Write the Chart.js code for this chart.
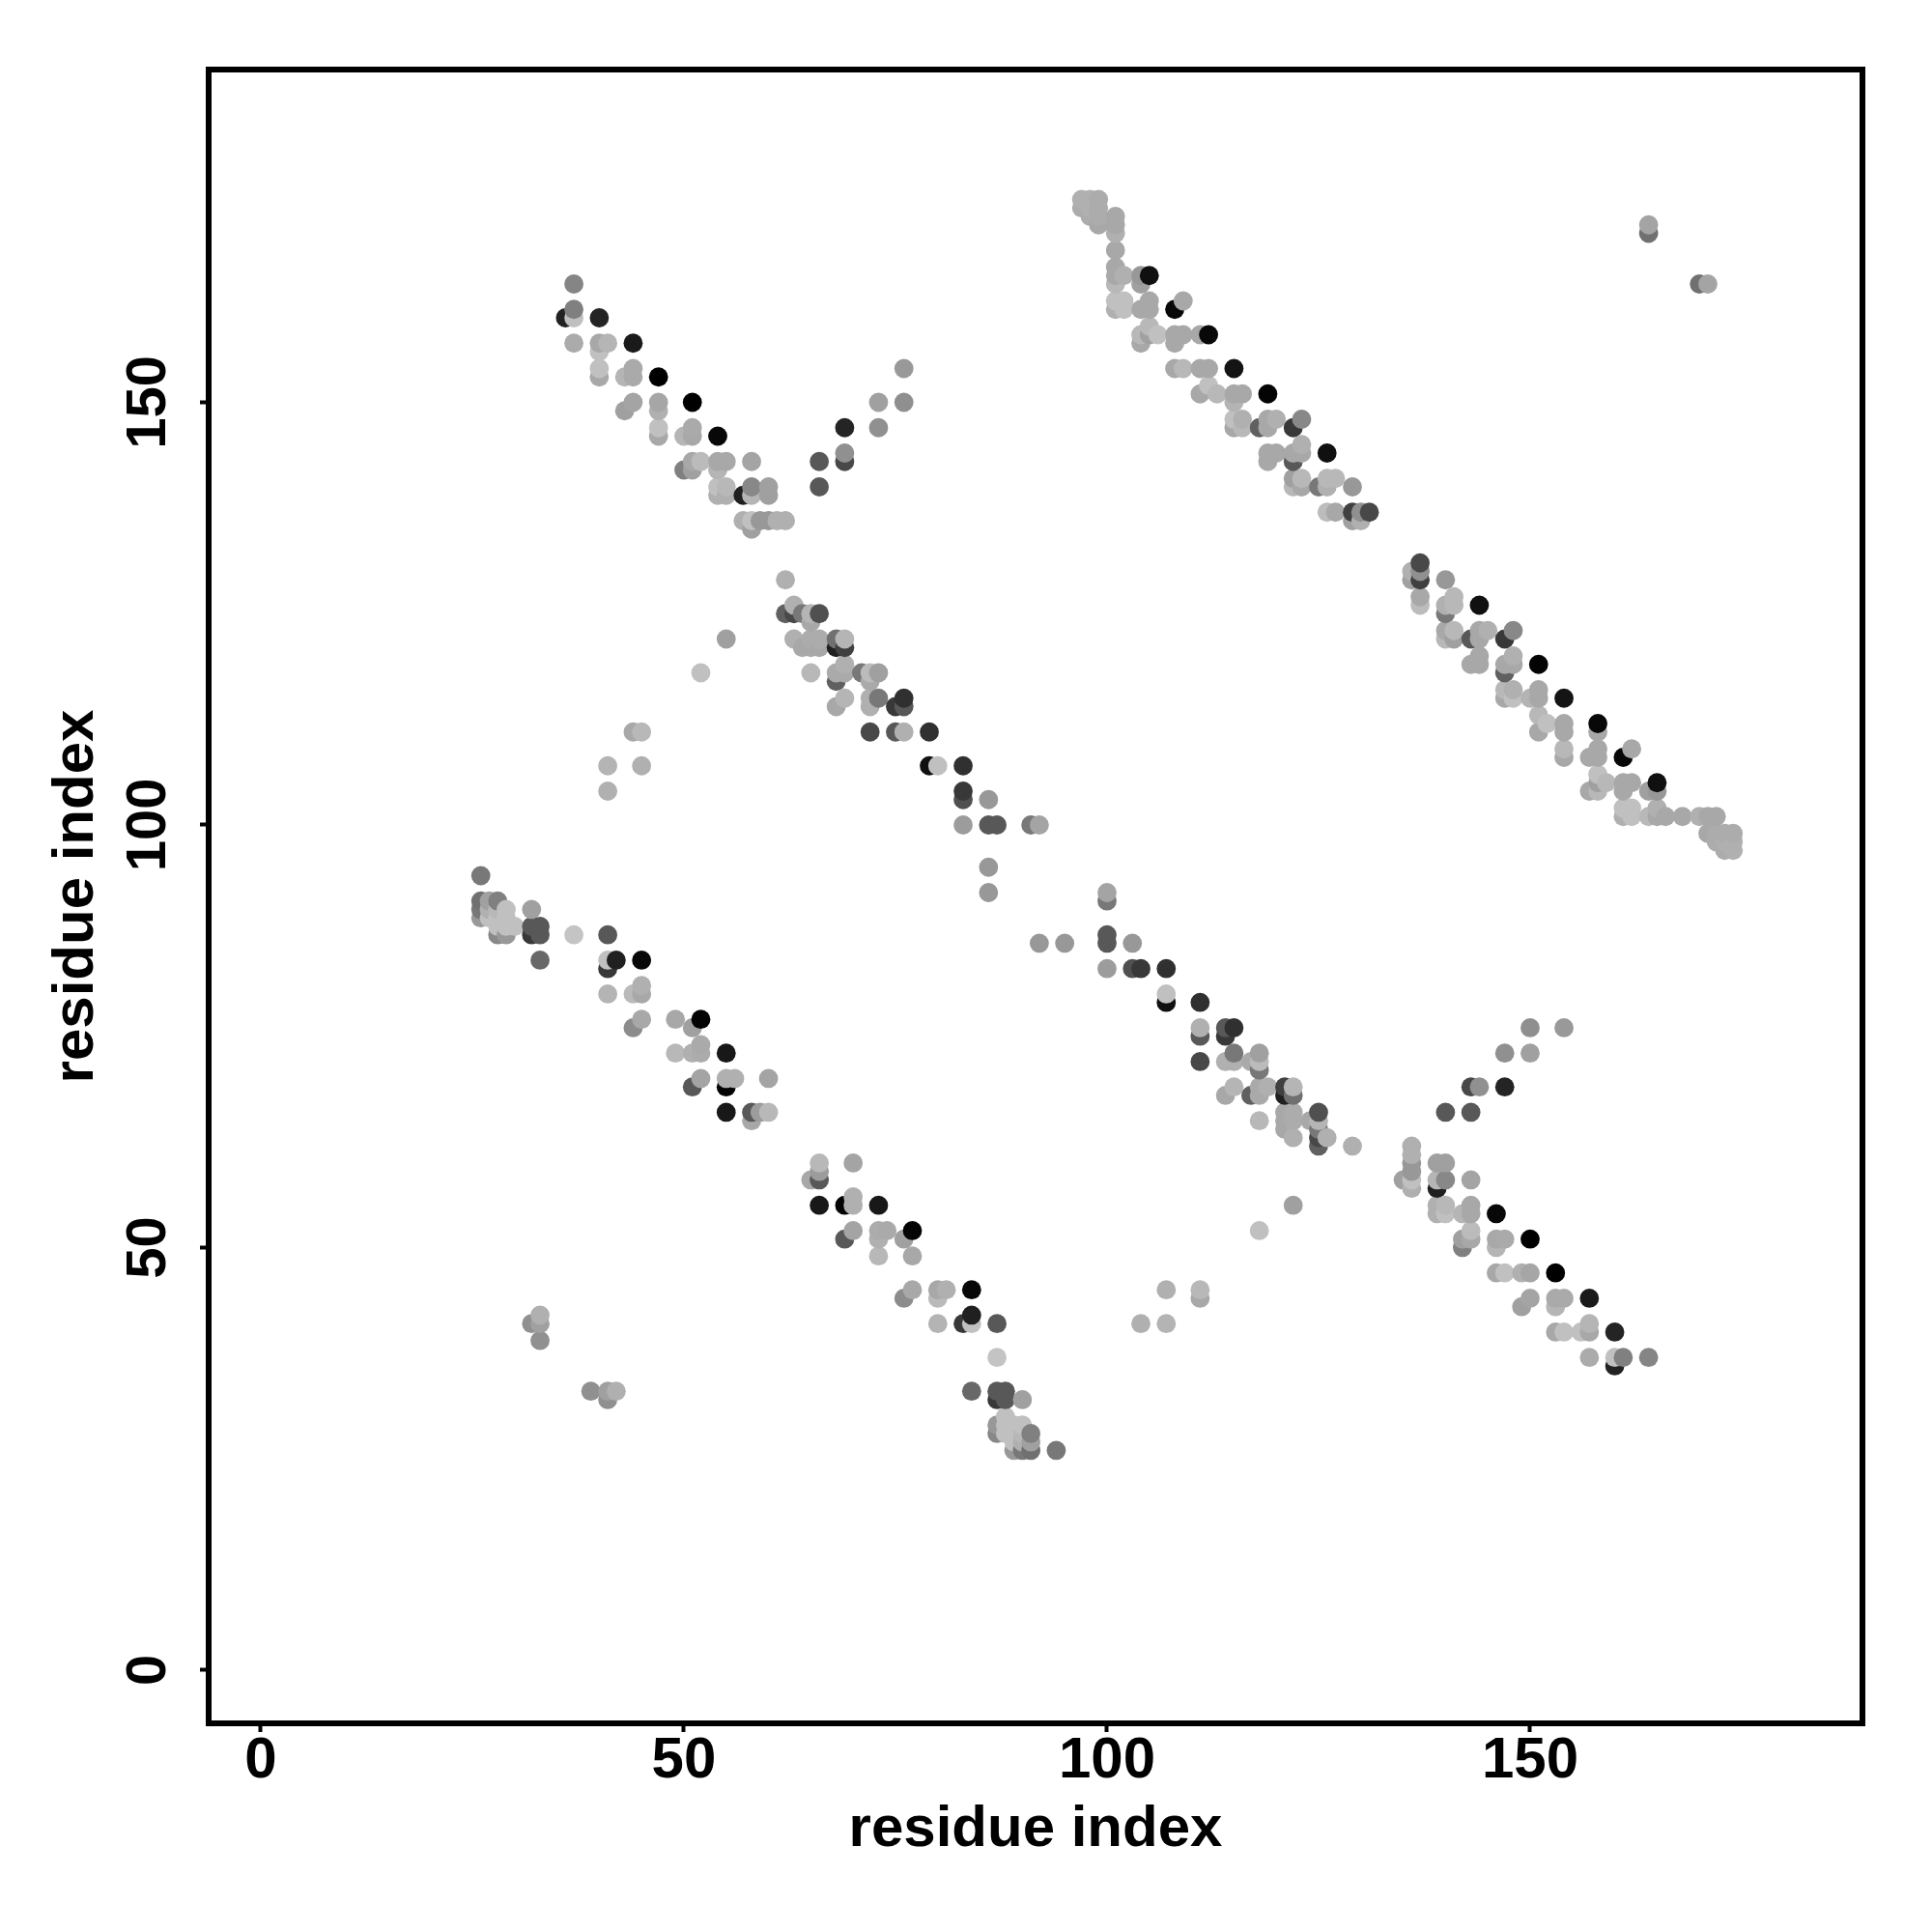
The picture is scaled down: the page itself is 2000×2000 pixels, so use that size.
<!DOCTYPE html>
<html>
<head>
<meta charset="utf-8">
<title>residue contact map</title>
<script src="https://cdn.jsdelivr.net/npm/chart.js@4"></script>
<style>
  html, body { margin: 0; padding: 0; background: #fff; }
  canvas { display: block; }
</style>
</head>
<body>
<canvas id="grafico" width="2000" height="2000"></canvas>
<script>
// Contacts: each pair is drawn at (i,j) and at (j,i)
const residueI = [
  37,36,37,37,37,40,40,41,40,40,40,43,44,44,44,47,43,44,47,47,47,47,51,50,51,51,54,50,51,51,52,54,55,54,58,54,55,54,55,57,58,58,60,60,57,58,58,59,60,61,62,
  66,66,69,69,69,73,73,76,76,
  62,63,62,63,64,65,66,65,63,65,66,68,69,64,65,66,68,69,
  65,68,69,69,71,72,73,68,72,69,72,73,68,72,75,76,76,
  72,75,76,79,79,80,83,83,83,86,83,86,87,91,92,86,86,
  26,26,26,26,27,28,27,27,28,28,29,29,28,29,30,28,29,32,32,33,32,33,37,41,33,41,41,42,45,41,44,45,45,45,44,49,52,51,49,51,52,52,55,51,52,55,55,56,60,55,58,59,60,58,
  97,98,99,97,98,99,98,99,99,101,101,101,101,101,101,102,101,104,104,105,101,101,102,102,104,105,105,108,109,
  104,105,105,106,104,108,109,108,111,112,108,109,111,112,115,112,111,113,115,116,115,119,
  115,116,115,116,118,119,119,120,122,123,119,119,120,122,123,123,122,126,
  122,122,123,123,125,126,127,126,129,126,127,129,130,129,130,131,
  33,32,33,33,41,41,44,45,45,52,55,164,164
];
const residueJ = [
  164,160,160,161,157,160,157,157,156,154,153,153,154,153,157,153,149,150,150,149,147,146,150,146,147,146,146,142,143,142,143,143,143,142,143,140,140,139,139,139,140,139,140,139,136,136,135,136,136,136,136,
  143,140,147,144,143,150,147,154,150,
  129,126,125,125,125,125,125,124,122,122,122,122,122,121,121,121,121,121,
  118,118,119,118,118,118,118,117,117,115,115,115,114,114,114,114,115,
  111,111,111,111,107,107,107,104,103,103,100,100,100,100,100,95,92,
  94,91,90,89,91,91,90,89,90,89,90,89,88,88,88,87,87,90,88,88,87,87,87,87,84,84,83,84,84,80,80,81,80,77,76,77,77,76,73,73,74,73,73,69,70,69,70,70,70,66,66,66,66,65,
  174,174,174,173,173,173,172,172,171,172,171,170,168,166,165,165,164,165,164,165,162,161,162,161,161,162,161,161,162,
  158,159,158,158,157,158,158,157,158,158,154,154,154,154,154,152,151,151,151,151,150,151,
  148,148,147,147,147,148,147,148,147,148,144,143,144,144,145,144,143,144,
  141,140,141,140,140,141,141,140,140,137,137,136,136,137,137,137,
  39,41,41,42,104,107,111,111,107,118,122,170,171
];
const grayLevel = [
  133,34,192,128,171,36,168,181,192,192,168,181,170,170,26,0,160,164,166,176,192,168,0,181,170,168,8,128,168,160,187,168,168,181,164,192,184,176,176,32,136,181,160,160,176,192,160,152,152,176,176,
  88,88,36,144,72,160,144,153,143,
  176,176,96,72,120,181,80,168,176,172,172,112,181,168,168,168,32,64,
  184,170,176,170,120,187,160,96,170,181,176,120,168,176,56,88,48,
  72,88,176,48,16,192,48,56,80,152,156,88,88,120,164,152,152,
  120,112,120,152,160,128,176,192,184,192,192,192,192,192,192,136,152,160,88,88,56,88,196,88,104,192,56,32,8,180,186,176,168,168,140,168,4,160,184,176,170,172,24,88,164,4,176,176,164,24,88,156,184,168,
  176,176,172,172,176,172,172,172,168,168,168,176,168,168,168,176,184,152,160,16,192,176,192,192,168,168,168,8,168,
  184,184,160,192,168,168,168,168,168,8,168,184,168,168,20,192,168,184,168,168,180,4,
  192,176,168,184,96,168,168,176,56,136,168,168,168,168,176,168,88,16,
  160,184,184,168,120,184,184,176,152,188,168,160,176,64,144,72,
  144,144,160,176,176,180,168,184,176,192,160,112,164
];
const xTickValues = [0, 50, 100, 150];
const yTickValues = [0, 50, 100, 150];
const axisLabel = "residue index";

// Each contact appears on both sides of the diagonal, drawn left to right, bottom to top
const pontos = [];
residueI.forEach((r, n) => {
  pontos.push({ x: r, y: residueJ[n], g: grayLevel[n] });
  pontos.push({ x: residueJ[n], y: r, g: grayLevel[n] });
});
pontos.sort((a, b) => a.x - b.x || a.y - b.y);

const fonte = { family: "'Liberation Sans', Arial, sans-serif", size: 60, weight: "bold" };
const fonteY = { family: "'Liberation Sans', Arial, sans-serif", size: 58, weight: "bold" };

// Frame around the plot area
const moldura = {
  id: "moldura",
  afterDatasetsDraw(chart) {
    const { ctx, chartArea: a } = chart;
    ctx.save();
    ctx.strokeStyle = "#000";
    ctx.lineWidth = 6;
    ctx.strokeRect(a.left, a.top, a.right - a.left, a.bottom - a.top);
    ctx.restore();
  }
};

new Chart(document.getElementById("grafico").getContext("2d"), {
  type: "scatter",
  data: {
    datasets: [{
      data: pontos.map(p => ({ x: p.x, y: p.y })),
      pointRadius: 9.9,
      pointBorderWidth: 0,
      pointBackgroundColor: pontos.map(p => `rgb(${p.g},${p.g},${p.g})`)
    }]
  },
  options: {
    responsive: false,
    animation: false,
    events: [],
    layout: { padding: { top: 72, right: 72, left: 0, bottom: 0 } },
    plugins: { legend: { display: false }, tooltip: { enabled: false } },
    scales: {
      x: {
        type: "linear",
        min: -6.16,
        max: 189.27,
        afterBuildTicks(scale) { scale.ticks = xTickValues.map(v => ({ value: v })); },
        afterFit(scale) { scale.height = 216; },
        border: { display: false },
        grid: { drawOnChartArea: false, drawTicks: true, tickLength: 9, tickWidth: 4, tickColor: "#000" },
        ticks: { color: "#000", font: fonte, padding: -6, maxRotation: 0, autoSkip: false },
        title: { display: true, text: axisLabel, color: "#000", font: fonte, padding: { top: 0, bottom: 70 } }
      },
      y: {
        type: "linear",
        min: -6.29,
        max: 189.37,
        afterBuildTicks(scale) { scale.ticks = yTickValues.map(v => ({ value: v })); },
        afterFit(scale) { scale.width = 216; },
        border: { display: false },
        grid: { drawOnChartArea: false, drawTicks: true, tickLength: 9, tickWidth: 4, tickColor: "#000" },
        ticks: { color: "#000", font: fonteY, padding: 4, minRotation: 90, maxRotation: 90, crossAlign: "center", autoSkip: false },
        title: { display: true, text: axisLabel, color: "#000", font: fonte, padding: { top: 43, bottom: 0 } }
      }
    }
  },
  plugins: [moldura]
});
</script>
</body>
</html>
